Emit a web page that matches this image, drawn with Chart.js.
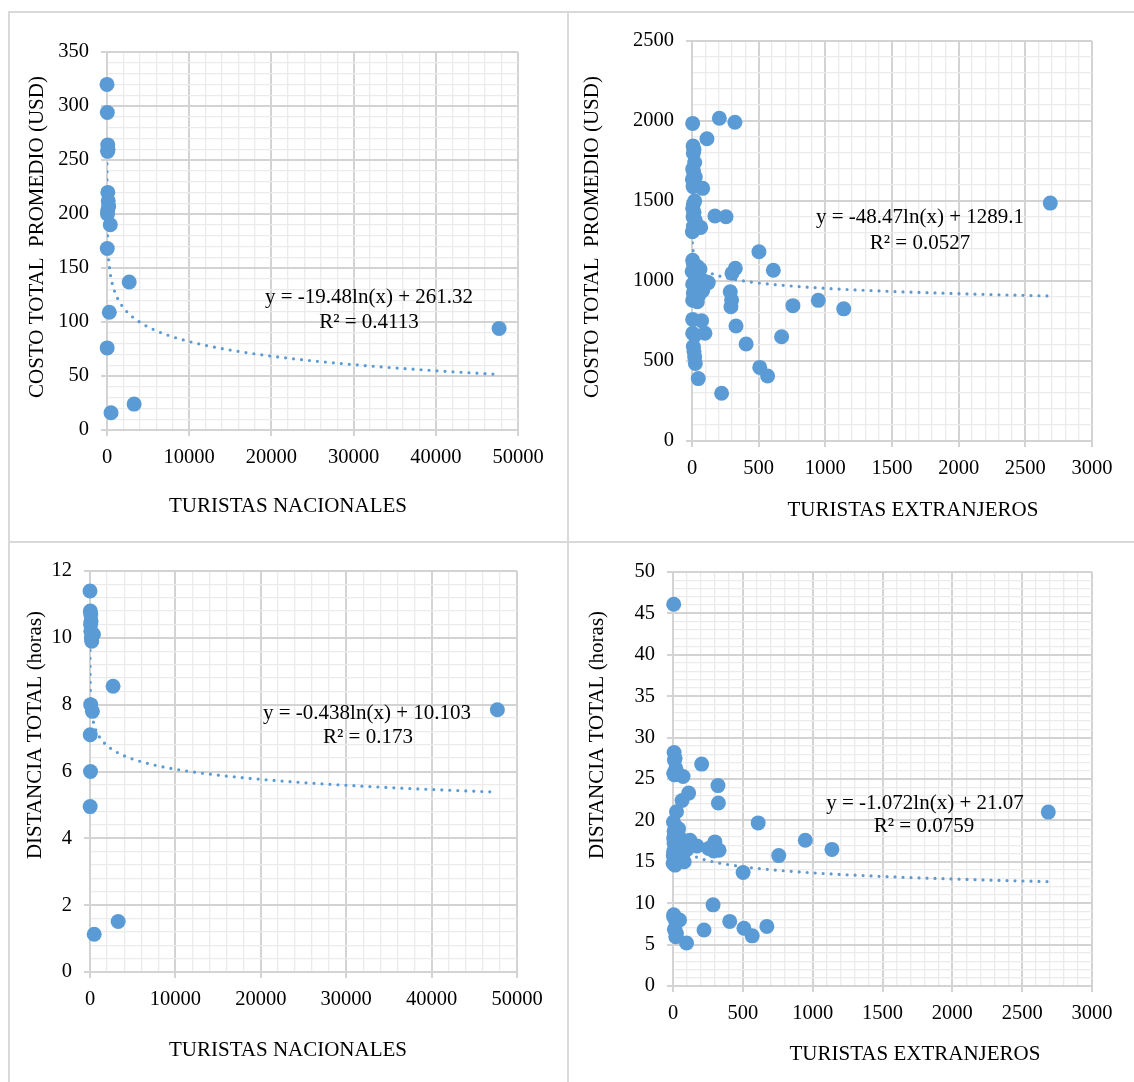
<!DOCTYPE html>
<html lang="es">
<head>
<meta charset="utf-8">
<title>Turistas vs costo y distancia</title>
<script src="https://cdn.jsdelivr.net/npm/chart.js@4.4.1/dist/chart.umd.min.js"></script>
<style>
    html, body { margin: 0; padding: 0; background: #fff; overflow: hidden; width: 1134px; height: 1082px; }
    canvas { position: absolute; }
    .linea { position: absolute; background: #d9d9d9; z-index: 5; }
</style>
</head>
<body>
<canvas id="graficoCostoNac" width="560" height="530" style="left:8px;top:12px"></canvas>
<canvas id="graficoCostoExt" width="690" height="530" style="left:568px;top:12px"></canvas>
<canvas id="graficoDistNac" width="560" height="539" style="left:8px;top:543px"></canvas>
<canvas id="graficoDistExt" width="690" height="539" style="left:568px;top:543px"></canvas>

<!-- marcos de los cuatro paneles -->
<div class="linea" style="left:8px;top:11px;width:1126px;height:2px"></div>
<div class="linea" style="left:8px;top:11px;width:2px;height:1071px"></div>
<div class="linea" style="left:567px;top:11px;width:2px;height:1071px"></div>
<div class="linea" style="left:8px;top:541px;width:1126px;height:2px"></div>

<script>
// Turistas nacionales (eje x de los dos paneles de la izquierda)
const nacionales = [1, 40, 90, 120, 70, 100, 150, 200, 80, 60, 400, 30, 2700, 280, 20, 490, 3300, 47700];
const costoNac = [320, 294, 264, 260, 258, 220, 212, 207, 203, 200, 190, 168, 137, 109, 76, 16, 24, 94];
const distanciaNac = [11.4, 10.8, 10.7, 10.5, 10.4, 10.2, 10.0, 9.9, 8.0, 6.0, 10.1, 7.1, 8.55, 7.8, 4.95, 1.13, 1.51, 7.85];

// Turistas extranjeros (eje x de los dos paneles de la derecha)
const extranjeros = [
    5, 8, 15, 10, 20, 5, 12, 25, 3, 18, 8, 80, 20, 10, 5, 15, 8, 25, 10, 65, 3,
    5, 10, 40, 60, 1, 15, 30, 70, 25, 100, 5, 45, 60, 20, 80, 10, 50, 30, 5, 40, 122,
    5, 72, 5, 97, 20, 10, 15, 20, 25, 47,
    112, 205, 322, 325, 172, 255, 502, 300, 610, 287, 297, 292, 330, 757, 947, 1138, 672, 406, 508, 567, 222, 2687
];
const costoExt = [
    1985, 1844, 1820, 1798, 1740, 1700, 1683, 1650, 1635, 1600, 1590, 1579, 1500, 1480, 1454, 1430, 1402, 1380, 1340, 1335, 1308,
    1130, 1110, 1090, 1075, 1060, 1050, 1030, 1010, 1000, 995, 980, 970, 960, 955, 940, 925, 910, 895, 880, 870, 990,
    760, 752, 673, 673, 660, 590, 560, 527, 485, 390,
    1889, 2017, 1992, 1079, 1406, 1402, 1183, 1048, 1067, 933, 881, 839, 719, 846, 879, 826, 652, 606, 460, 406, 298, 1487
];
const distanciaExt = [
    46.1, 28.2, 27.5, 27.3, 26.3, 25.7, 25.5, 21.05, 19.8, 19.3, 18.7, 15.0, 18.4, 18.2, 17.8, 17.5, 17.2, 16.6, 16.0, 22.4, 15.8,
    15.6, 15.2, 19.0, 17.0, 14.8, 14.6, 18.5, 17.3, 16.9, 16.5, 16.3, 18.0, 16.8, 17.7, 16.2, 15.4, 16.4, 17.1, 15.9, 15.4, 17.6,
    8.6, 25.3, 8.36, 5.2, 7.8, 6.85, 6.7, 5.95, 6.3, 7.97,
    23.3, 26.8, 24.2, 22.1, 16.9, 16.6, 13.7, 17.4, 19.7, 9.8, 17.2, 16.3, 16.4, 15.75, 17.6, 16.5, 7.2, 7.8, 6.97, 6.06, 6.76, 21.0
];

// Coeficientes de la tendencia logarítmica y = a ln(x) + b, con su R²
const coefCostoNac = [-19.48, 261.32];
const coefCostoExt = [-48.47, 1289.1];
const coefDistNac = [-0.438, 10.103];
const coefDistExt = [-1.072, 21.07];
const r2Valores = ['0.4113', '0.0527', '0.173', '0.0759'];

// Ejes: [min, max, paso mayor, paso menor]
const ejeNacionales = [0, 50000, 10000, 2000];
const ejeExtranjeros = [0, 3000, 500, 100];
const ejeCostoNac = [0, 350, 50, 10];
const ejeCostoExt = [0, 2500, 500, 100];
const ejeDistNac = [0, 12, 2, 0.4];
const ejeDistExt = [0, 50, 5, 1];

const AZUL = '#5B9BD5';
const FUENTE = 'Liberation Serif, Times New Roman, serif';

function esMayor(valor, paso) {
    const r = valor / paso;
    return Math.abs(r - Math.round(r)) < 1e-6;
}

// Puntos de la curva de tendencia (muestreo log + lineal entre x mínimo y x máximo)
function puntosTendencia(xs, coef) {
    const xmin = Math.max(Math.min(...xs), 1);
    const xmax = Math.max(...xs);
    const lista = [];
    for (let i = 0; i <= 300; i++) {
        lista.push(Math.exp(Math.log(xmin) + (Math.log(xmax) - Math.log(xmin)) * i / 300));
    }
    for (let i = 0; i <= 200; i++) {
        lista.push(xmin + (xmax - xmin) * i / 200);
    }
    lista.sort((a, b) => a - b);
    return lista.map(x => ({ x: x, y: coef[0] * Math.log(x) + coef[1] }));
}

function textoEcuacion(coef) {
    const b = coef[1] >= 0 ? ' + ' + coef[1] : ' - ' + Math.abs(coef[1]);
    return 'y = ' + coef[0] + 'ln(x)' + b;
}

// Plugin para títulos de ejes y ecuación de la tendencia
const pluginTextos = {
    id: 'textos',
    afterDatasetsDraw(chart, args, opciones) {
        const ctx = chart.ctx;
        (opciones.items || []).forEach(function (t) {
            ctx.save();
            ctx.font = '21px ' + FUENTE;
            ctx.fillStyle = '#000';
            ctx.textAlign = 'center';
            ctx.textBaseline = 'middle';
            ctx.translate(t.x, t.y);
            if (t.girar) ctx.rotate(-Math.PI / 2);
            ctx.fillText(t.texto, 0, 0);
            ctx.restore();
        });
    }
};

function configEje(eje, tamFijo, esX, padding) {
    return {
        type: 'linear',
        min: eje[0],
        max: eje[1],
        afterFit: function (scale) {
            if (esX) scale.height = tamFijo; else scale.width = tamFijo;
        },
        ticks: {
            stepSize: eje[3],
            autoSkip: false,
            maxTicksLimit: 1000,
            maxRotation: 0,
            minRotation: 0,
            padding: padding,
            color: '#000',
            font: { family: FUENTE, size: 20.5 },
            callback: function (v) { return esMayor(v, eje[2]) ? String(Math.round(v)) : ''; }
        },
        grid: {
            color: c => (c.tick && esMayor(c.tick.value, eje[2])) ? '#d3d3d3' : '#ebebeb',
            lineWidth: c => (c.tick && esMayor(c.tick.value, eje[2])) ? 2 : 1.3,
            tickLength: 6,
            tickColor: c => (c.tick && esMayor(c.tick.value, eje[2])) ? '#d3d3d3' : 'rgba(0,0,0,0)'
        },
        border: { color: '#d3d3d3', width: 2 }
    };
}

function crearGrafico(id, xs, ys, coef, ejeX, ejeY, caja, textos) {
    const ctx = document.getElementById(id).getContext('2d');
    return new Chart(ctx, {
        type: 'scatter',
        data: {
            datasets: [
                {
                    label: 'datos',
                    data: xs.map((x, i) => ({ x: x, y: ys[i] })),
                    backgroundColor: AZUL,
                    borderWidth: 0,
                    pointRadius: 7.5,
                    pointHoverRadius: 7.5,
                    clip: false
                },
                {
                    label: 'tendencia',
                    data: puntosTendencia(xs, coef),
                    showLine: true,
                    borderColor: AZUL,
                    borderWidth: 3.2,
                    borderDash: [0, 8],
                    borderCapStyle: 'round',
                    pointRadius: 0,
                    tension: 0,
                    fill: false
                }
            ]
        },
        options: {
            responsive: false,
            animation: false,
            devicePixelRatio: 1,
            layout: { padding: { left: 0, top: caja.arriba, right: caja.derecha, bottom: 0 } },
            plugins: {
                legend: { display: false },
                tooltip: { enabled: false },
                textos: { items: textos }
            },
            scales: {
                x: configEje(ejeX, caja.altoX, true, 9),
                y: configEje(ejeY, caja.anchoY, false, 12)
            }
        },
        plugins: [pluginTextos]
    });
}

crearGrafico('graficoCostoNac', nacionales, costoNac, coefCostoNac, ejeNacionales, ejeCostoNac,
    { arriba: 40, derecha: 50, anchoY: 99, altoX: 112 },
    [
        { texto: 'COSTO TOTAL  PROMEDIO (USD)', x: 29, y: 225, girar: true },
        { texto: 'TURISTAS NACIONALES', x: 280, y: 494 },
        { texto: textoEcuacion(coefCostoNac), x: 361, y: 285 },
        { texto: 'R² = ' + r2Valores[0], x: 361, y: 310 }
    ]);

crearGrafico('graficoCostoExt', extranjeros, costoExt, coefCostoExt, ejeExtranjeros, ejeCostoExt,
    { arriba: 29, derecha: 166, anchoY: 124, altoX: 101 },
    [
        { texto: 'COSTO TOTAL  PROMEDIO (USD)', x: 24, y: 225, girar: true },
        { texto: 'TURISTAS EXTRANJEROS', x: 345, y: 498 },
        { texto: textoEcuacion(coefCostoExt), x: 352, y: 205 },
        { texto: 'R² = ' + r2Valores[1], x: 352, y: 231 }
    ]);

crearGrafico('graficoDistNac', nacionales, distanciaNac, coefDistNac, ejeNacionales, ejeDistNac,
    { arriba: 28, derecha: 51, anchoY: 82, altoX: 110 },
    [
        { texto: 'DISTANCIA TOTAL (horas)', x: 27, y: 192, girar: true },
        { texto: 'TURISTAS NACIONALES', x: 280, y: 507 },
        { texto: textoEcuacion(coefDistNac), x: 359, y: 170 },
        { texto: 'R² = ' + r2Valores[2], x: 360, y: 194 }
    ]);

crearGrafico('graficoDistExt', extranjeros, distanciaExt, coefDistExt, ejeExtranjeros, ejeDistExt,
    { arriba: 29, derecha: 166, anchoY: 105, altoX: 96 },
    [
        { texto: 'DISTANCIA TOTAL (horas)', x: 29, y: 192, girar: true },
        { texto: 'TURISTAS EXTRANJEROS', x: 347, y: 511 },
        { texto: textoEcuacion(coefDistExt), x: 357, y: 260 },
        { texto: 'R² = ' + r2Valores[3], x: 356, y: 283 }
    ]);
</script>
</body>
</html>
